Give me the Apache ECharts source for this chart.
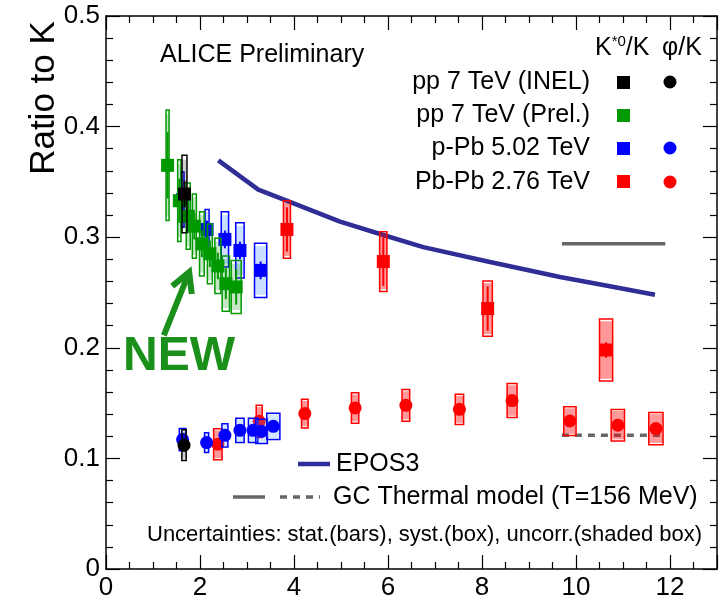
<!DOCTYPE html>
<html>
<head>
<meta charset="utf-8">
<script src="https://cdn.jsdelivr.net/npm/echarts@6/dist/echarts.min.js"></script>
<style>
  html, body { margin: 0; padding: 0; background: #fff; }
  #chart { width: 726px; height: 602px; }
</style>
</head>
<body>
<div id="chart"></div>
<script>
// ---- pp 7 TeV (INEL): K*0/K and phi/K ----
const ppInelKstX = [1.67];
const ppInelKstY = [0.339];
const ppInelKstStat = [0.012];
const ppInelKstSyst = [0.035];
const ppInelKstUnc = [0.031];
const ppInelKstXErr = [0.053];

const ppInelPhiX = [1.66];
const ppInelPhiY = [0.112];
const ppInelPhiStat = [0.004];
const ppInelPhiSyst = [0.014];
const ppInelPhiUnc = [0.012];
const ppInelPhiXErr = [0.046];

// ---- pp 7 TeV (Prel.): K*0/K ----
const ppPrelX = [1.31, 1.56, 1.75, 1.88, 2.04, 2.21, 2.38, 2.55, 2.77];
const ppPrelY = [0.365, 0.333, 0.319, 0.310, 0.294, 0.285, 0.274, 0.258, 0.255];
const ppPrelStat = [0.030, 0.020, 0.015, 0.012, 0.012, 0.012, 0.012, 0.014, 0.016];
const ppPrelSyst = [0.050, 0.037, 0.030, 0.029, 0.029, 0.027, 0.025, 0.025, 0.024];
const ppPrelUnc = [0.046, 0.033, 0.027, 0.026, 0.026, 0.024, 0.022, 0.022, 0.021];
const ppPrelXErr = [0.032, 0.035, 0.043, 0.043, 0.050, 0.053, 0.064, 0.078, 0.106];

// ---- p-Pb 5.02 TeV: K*0/K and phi/K ----
const pPbKstX = [1.63, 2.15, 2.53, 2.85, 3.29];
const pPbKstY = [0.334, 0.307, 0.298, 0.288, 0.270];
const pPbKstStat = [0.010, 0.008, 0.008, 0.008, 0.008];
const pPbKstSyst = [0.025, 0.018, 0.025, 0.025, 0.0245];
const pPbKstUnc = [0.022, 0.016, 0.022, 0.022, 0.022];
const pPbKstXErr = [0.030, 0.043, 0.078, 0.089, 0.130];

const pPbPhiX = [1.63, 2.14, 2.53, 2.85, 3.13, 3.31, 3.56];
const pPbPhiY = [0.117, 0.1143, 0.1209, 0.1254, 0.1254, 0.1245, 0.129];
const pPbPhiStat = [0.004, 0.003, 0.003, 0.003, 0.003, 0.003, 0.004];
const pPbPhiSyst = [0.010, 0.009, 0.0105, 0.011, 0.011, 0.011, 0.0118];
const pPbPhiUnc = [0.009, 0.008, 0.0095, 0.010, 0.010, 0.010, 0.0106];
const pPbPhiXErr = [0.070, 0.043, 0.064, 0.089, 0.100, 0.124, 0.140];

// ---- Pb-Pb 2.76 TeV: K*0/K and phi/K ----
const pbPbKstX = [3.85, 5.90, 8.12, 10.64];
const pbPbKstY = [0.307, 0.278, 0.2355, 0.198];
const pbPbKstStat = [0.020, 0.022, 0.020, 0.007];
const pbPbKstSyst = [0.026, 0.027, 0.025, 0.028];
const pbPbKstUnc = [0.024, 0.025, 0.023, 0.026];
const pbPbKstXErr = [0.075, 0.078, 0.100, 0.140];

const pbPbPhiX = [2.38, 3.26, 4.23, 5.30, 6.38, 7.52, 8.64, 9.87, 10.89, 11.70];
const pbPbPhiY = [0.1128, 0.1335, 0.1405, 0.1456, 0.148, 0.1444, 0.1523, 0.1338, 0.130, 0.127];
const pbPbPhiStat = [0.003, 0.003, 0.003, 0.003, 0.003, 0.003, 0.003, 0.003, 0.003, 0.003];
const pbPbPhiSyst = [0.014, 0.0146, 0.013, 0.0138, 0.0143, 0.0137, 0.0154, 0.013, 0.0143, 0.0146];
const pbPbPhiUnc = [0.0125, 0.013, 0.0115, 0.0122, 0.0127, 0.0122, 0.0138, 0.0115, 0.0128, 0.013];
const pbPbPhiXErr = [0.090, 0.064, 0.070, 0.078, 0.082, 0.089, 0.106, 0.131, 0.142, 0.152];

// ---- EPOS3 prediction (K*0/K) ----
const eposX = [2.39, 3.24, 3.91, 4.98, 5.90, 6.75, 8.17, 9.66, 10.72, 11.68];
const eposY = [0.3695, 0.343, 0.332, 0.314, 0.302, 0.291, 0.2776, 0.264, 0.2556, 0.248];

// ---- GC thermal model (T = 156 MeV) ----
const thermalX = [9.7, 11.9];
const thermalKst = [0.294, 0.294];
const thermalPhi = [0.121, 0.121];

// ---- "NEW" arrow (tail, tip) ----
const newArrow = [[1.23, 0.2113], [1.77, 0.2684]];

// ---- axis ticks ----
const xTickLabels = ['0', '2', '4', '6', '8', '10', '12'];
const yTickLabels = ['0', '0.1', '0.2', '0.3', '0.4', '0.5'];

const FONT = 'Liberation Sans, Arial, Helvetica, sans-serif';

function zip(xs, ys, st, sy, un, xe) {
  return xs.map((x, i) => [x, ys[i], st[i], sy[i], un[i], xe[i]]);
}

// One point with stat bar, syst box and shaded uncorrelated box
function errSeries(name, data, color, fill, marker, z) {
  return {
    type: 'custom',
    name: name,
    z: z,
    clip: false,
    data: data,
    encode: { x: 0, y: 1 },
    renderItem: function (params, api) {
      const x = api.value(0), y = api.value(1);
      const st = api.value(2), sy = api.value(3), un = api.value(4), xe = api.value(5);
      const c = api.coord([x, y]);
      const b1 = api.coord([x - xe, y + sy]), b2 = api.coord([x + xe, y - sy]);
      const u1 = api.coord([x - xe, y + un]), u2 = api.coord([x + xe, y - un]);
      const s1 = api.coord([x, y + st]), s2 = api.coord([x, y - st]);
      const children = [
        { type: 'rect', shape: { x: u1[0], y: u1[1], width: u2[0] - u1[0], height: u2[1] - u1[1] },
          style: { fill: fill } },
        { type: 'rect', shape: { x: b1[0], y: b1[1], width: b2[0] - b1[0], height: b2[1] - b1[1] },
          style: { fill: 'none', stroke: color, lineWidth: 1.5 } },
        { type: 'line', shape: { x1: s1[0], y1: s1[1], x2: s2[0], y2: s2[1] },
          style: { stroke: color, lineWidth: 2 } }
      ];
      if (marker === 'square') {
        children.push({ type: 'rect', shape: { x: c[0] - 6.5, y: c[1] - 6.5, width: 13, height: 13 },
          style: { fill: color } });
      } else {
        children.push({ type: 'circle', shape: { cx: c[0], cy: c[1], r: 6.5 }, style: { fill: color } });
      }
      return { type: 'group', children: children };
    }
  };
}

const GREEN = '#009900', BLUE = '#0000ff', RED = '#ff0000', BLACK = '#000000';

const axisCommon = {
  type: 'value',
  axisLine: { show: true, onZero: false, lineStyle: { color: '#000', width: 1.5 } },
  axisTick: { show: true, inside: true, length: 14, lineStyle: { color: '#000', width: 1.2 } },
  minorTick: { show: true, length: 7, lineStyle: { color: '#000', width: 1.2 } },
  splitLine: { show: false },
  minorSplitLine: { show: false }
};

const chart = echarts.init(document.getElementById('chart'), null, { renderer: 'canvas' });

const option = {
  animation: false,
  backgroundColor: '#fff',
  grid: { left: 106, right: 9, top: 16, bottom: 33, containLabel: false },
  xAxis: [
    Object.assign({}, axisCommon, {
      position: 'bottom', min: 0, max: 13, interval: 2,
      minorTick: Object.assign({}, axisCommon.minorTick, { splitNumber: 4 }),
      axisLabel: { show: true, fontSize: 26, color: '#000', fontFamily: FONT, margin: 6,
        formatter: v => xTickLabels[Math.round(v / 2)] ?? '' }
    }),
    Object.assign({}, axisCommon, {
      position: 'top', min: 0, max: 13, interval: 2,
      minorTick: Object.assign({}, axisCommon.minorTick, { splitNumber: 4 }),
      axisLabel: { show: false }
    })
  ],
  yAxis: [
    Object.assign({}, axisCommon, {
      position: 'left', min: 0, max: 0.5, interval: 0.1,
      minorTick: Object.assign({}, axisCommon.minorTick, { splitNumber: 5 }),
      axisLabel: { show: true, fontSize: 26, color: '#000', fontFamily: FONT, margin: 6,
        formatter: v => yTickLabels[Math.round(v * 10)] ?? '' }
    }),
    Object.assign({}, axisCommon, {
      position: 'right', min: 0, max: 0.5, interval: 0.1,
      minorTick: Object.assign({}, axisCommon.minorTick, { splitNumber: 5 }),
      axisLabel: { show: false }
    })
  ],
  series: [
    {
      type: 'line', name: 'EPOS3', z: 2,
      data: eposX.map((x, i) => [x, eposY[i]]),
      showSymbol: false, smooth: false,
      lineStyle: { color: '#2e2e96', width: 4.5 }
    },
    {
      type: 'line', name: 'thermal K*0/K', z: 2,
      data: thermalX.map((x, i) => [x, thermalKst[i]]),
      showSymbol: false,
      lineStyle: { color: '#666666', width: 3.5 }
    },
    {
      type: 'line', name: 'thermal phi/K', z: 2,
      data: thermalX.map((x, i) => [x, thermalPhi[i]]),
      showSymbol: false,
      lineStyle: { color: '#666666', width: 3.5, type: [7, 6] }
    },
    errSeries('Pb-Pb phi/K', zip(pbPbPhiX, pbPbPhiY, pbPbPhiStat, pbPbPhiSyst, pbPbPhiUnc, pbPbPhiXErr), RED, 'rgba(255,0,0,0.4)', 'circle', 3),
    errSeries('Pb-Pb K*0/K', zip(pbPbKstX, pbPbKstY, pbPbKstStat, pbPbKstSyst, pbPbKstUnc, pbPbKstXErr), RED, 'rgba(255,0,0,0.4)', 'square', 3),
    errSeries('p-Pb phi/K', zip(pPbPhiX, pPbPhiY, pPbPhiStat, pPbPhiSyst, pPbPhiUnc, pPbPhiXErr), BLUE, 'rgba(80,150,255,0.25)', 'circle', 4),
    errSeries('p-Pb K*0/K', zip(pPbKstX, pPbKstY, pPbKstStat, pPbKstSyst, pPbKstUnc, pPbKstXErr), BLUE, 'rgba(80,150,255,0.3)', 'square', 4),
    errSeries('pp Prel K*0/K', zip(ppPrelX, ppPrelY, ppPrelStat, ppPrelSyst, ppPrelUnc, ppPrelXErr), GREEN, 'rgba(0,140,0,0.22)', 'square', 5),
    errSeries('pp INEL phi/K', zip(ppInelPhiX, ppInelPhiY, ppInelPhiStat, ppInelPhiSyst, ppInelPhiUnc, ppInelPhiXErr), BLACK, 'rgba(0,0,0,0.2)', 'circle', 6),
    errSeries('pp INEL K*0/K', zip(ppInelKstX, ppInelKstY, ppInelKstStat, ppInelKstSyst, ppInelKstUnc, ppInelKstXErr), BLACK, 'rgba(0,0,0,0.2)', 'square', 6),
    {
      type: 'custom', name: 'arrow', z: 7, clip: false,
      data: [[newArrow[0][0], newArrow[0][1], newArrow[1][0], newArrow[1][1]]],
      renderItem: function (params, api) {
        const a = api.coord([api.value(0), api.value(1)]);
        const b = api.coord([api.value(2), api.value(3)]);
        const ang = Math.atan2(b[1] - a[1], b[0] - a[0]);
        const L = 22, spread = 0.5;
        const h1 = [b[0] - L * Math.cos(ang - spread), b[1] - L * Math.sin(ang - spread)];
        const h2 = [b[0] - L * Math.cos(ang + spread), b[1] - L * Math.sin(ang + spread)];
        const col = '#1a8f1a';
        return { type: 'group', children: [
          { type: 'line', shape: { x1: a[0], y1: a[1], x2: b[0] - 2 * Math.cos(ang), y2: b[1] - 2 * Math.sin(ang) },
            style: { stroke: col, lineWidth: 6 } },
          { type: 'polyline', shape: { points: [h1, b, h2] },
            style: { stroke: col, lineWidth: 6, fill: 'none', lineJoin: 'miter' } }
        ] };
      }
    }
  ],
  graphic: [
    // y-axis title
    { type: 'text', x: 44, y: 98, rotation: Math.PI / 2,
      style: { text: 'Ratio to K', font: '35px ' + FONT, fill: '#000', align: 'center', verticalAlign: 'middle' } },
    // header
    { type: 'text', x: 160, y: 55,
      style: { text: 'ALICE Preliminary', font: '25px ' + FONT, fill: '#000', align: 'left', verticalAlign: 'middle' } },
    { type: 'text', x: 595, y: 48,
      style: { text: '{k|K}{s|*0}{k|/K}', fill: '#000', align: 'left', verticalAlign: 'middle',
        rich: { k: { font: '25px ' + FONT, fill: '#000' },
                s: { font: '15px ' + FONT, fill: '#000', verticalAlign: 'top', padding: [0, 0, 12, 0] } } } },
    { type: 'text', x: 662, y: 48,
      style: { text: 'φ/K', font: '25px ' + FONT, fill: '#000', align: 'left', verticalAlign: 'middle' } },
    // legend rows
    { type: 'text', x: 590, y: 82, style: { text: 'pp 7 TeV (INEL)', font: '25px ' + FONT, fill: '#000', align: 'right', verticalAlign: 'middle' } },
    { type: 'text', x: 590, y: 115, style: { text: 'pp 7 TeV (Prel.)', font: '25px ' + FONT, fill: '#000', align: 'right', verticalAlign: 'middle' } },
    { type: 'text', x: 590, y: 148, style: { text: 'p-Pb 5.02 TeV', font: '25px ' + FONT, fill: '#000', align: 'right', verticalAlign: 'middle' } },
    { type: 'text', x: 590, y: 182, style: { text: 'Pb-Pb 2.76 TeV', font: '25px ' + FONT, fill: '#000', align: 'right', verticalAlign: 'middle' } },
    { type: 'rect', shape: { x: 617, y: 76, width: 13, height: 13 }, style: { fill: BLACK } },
    { type: 'rect', shape: { x: 617, y: 109, width: 13, height: 13 }, style: { fill: GREEN } },
    { type: 'rect', shape: { x: 617, y: 142, width: 13, height: 13 }, style: { fill: BLUE } },
    { type: 'rect', shape: { x: 617, y: 175, width: 13, height: 13 }, style: { fill: RED } },
    { type: 'circle', shape: { cx: 670, cy: 82, r: 6.5 }, style: { fill: BLACK } },
    { type: 'circle', shape: { cx: 670, cy: 148, r: 6.5 }, style: { fill: BLUE } },
    { type: 'circle', shape: { cx: 670, cy: 182, r: 6.5 }, style: { fill: RED } },
    // lower legend
    { type: 'line', shape: { x1: 298, y1: 464, x2: 330, y2: 464 }, style: { stroke: '#2e2e96', lineWidth: 4.5 } },
    { type: 'text', x: 336, y: 464, style: { text: 'EPOS3', font: '25px ' + FONT, fill: '#000', align: 'left', verticalAlign: 'middle' } },
    { type: 'line', shape: { x1: 233, y1: 497, x2: 265, y2: 497 }, style: { stroke: '#666', lineWidth: 3.5 } },
    { type: 'line', shape: { x1: 280, y1: 497, x2: 320, y2: 497 }, style: { stroke: '#666', lineWidth: 3.5, lineDash: [7, 6] } },
    { type: 'text', x: 333, y: 497, style: { text: 'GC Thermal model (T=156 MeV)', font: '25px ' + FONT, fill: '#000', align: 'left', verticalAlign: 'middle' } },
    { type: 'text', x: 147, y: 535, style: { text: 'Uncertainties: stat.(bars), syst.(box), uncorr.(shaded box)', font: '22px ' + FONT, fill: '#000', align: 'left', verticalAlign: 'middle' } },
    // "NEW" tag
    { type: 'text', x: 123, y: 357, z: 10,
      style: { text: 'NEW', font: 'bold 48px ' + FONT, fill: '#1a8f1a', align: 'left', verticalAlign: 'middle' } }
  ]
};

chart.setOption(option);
</script>
</body>
</html>
